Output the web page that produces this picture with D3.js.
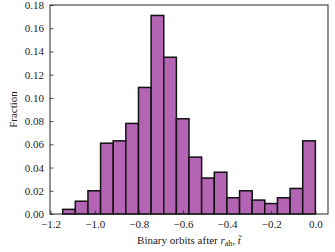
<!DOCTYPE html>
<html>
<head>
<meta charset="utf-8">
<script src="https://cdn.jsdelivr.net/npm/d3@7"></script>
<style>
  body { margin: 0; background: #fff; }
  svg text { font-family: "Liberation Serif", "DejaVu Serif", serif; fill: #222; }
  .axis path { display: none; }
  .axis line { stroke: #222; stroke-width: 0.8; }
</style>
</head>
<body>
<svg id="chart" width="335" height="252"></svg>
<script>
// histogram bin edges (21 edges -> 20 bins)
const binEdges = [-1.145, -1.0878, -1.0305, -0.9733, -0.916, -0.8588, -0.8015, -0.7443,
  -0.687, -0.6298, -0.5725, -0.5153, -0.458, -0.4008, -0.3435, -0.2863, -0.229,
  -0.1718, -0.1145, -0.0573, 0.0];
// fraction in each bin
const fractions = [0.004, 0.011, 0.020, 0.061, 0.063, 0.078, 0.109, 0.171, 0.135, 0.082,
  0.049, 0.031, 0.036, 0.014, 0.020, 0.012, 0.009, 0.014, 0.022, 0.063];
const xTicks = [-1.2, -1.0, -0.8, -0.6, -0.4, -0.2, 0.0];
const yTicks = [0.00, 0.02, 0.04, 0.06, 0.08, 0.10, 0.12, 0.14, 0.16, 0.18];

const margin = { top: 5, right: 7, bottom: 38, left: 50 },
  width = 335 - margin.left - margin.right,
  height = 252 - margin.top - margin.bottom;

const svg = d3.select("#chart");
const g = svg.append("g")
  .attr("transform", "translate(" + margin.left + "," + margin.top + ")");

const x = d3.scaleLinear().domain([-1.2025, 0.0573]).range([0, width]);
const y = d3.scaleLinear().domain([0, 0.18]).range([height, 0]);

const bins = fractions.map((f, i) => ({ x0: binEdges[i], x1: binEdges[i + 1], v: f }));

g.selectAll("rect.bar")
  .data(bins)
  .enter().append("rect")
  .attr("class", "bar")
  .attr("x", d => x(d.x0))
  .attr("width", d => x(d.x1) - x(d.x0))
  .attr("y", d => y(d.v))
  .attr("height", d => y(0) - y(d.v))
  .attr("fill", "#b365b4")
  .attr("stroke", "#111")
  .attr("stroke-width", 1.5);

const fmtMinus = s => s.replace("-", "\u2212");

// x axis, ticks pointing inwards
g.append("g")
  .attr("class", "axis")
  .attr("transform", "translate(0," + height + ")")
  .call(d3.axisBottom(x).tickValues(xTicks).tickSize(-3.5).tickPadding(6)
    .tickFormat(d => fmtMinus(d3.format(".1f")(d))))
  .selectAll("text").attr("font-size", 11);

// y axis
g.append("g")
  .attr("class", "axis")
  .call(d3.axisLeft(y).tickValues(yTicks).tickSize(-3.5).tickPadding(6)
    .tickFormat(d3.format(".2f")))
  .selectAll("text").attr("font-size", 11);

// frame
g.append("rect")
  .attr("width", width).attr("height", height)
  .attr("fill", "none").attr("stroke", "#222").attr("stroke-width", 1);

// labels
const xl = svg.append("text")
  .attr("x", margin.left + width / 2)
  .attr("y", 244)
  .attr("text-anchor", "middle")
  .attr("font-size", 11);
xl.append("tspan").text("Binary orbits after ");
xl.append("tspan").attr("font-style", "italic").text("r");
xl.append("tspan").attr("font-size", 8).attr("dy", 2).text("ah");
xl.append("tspan").attr("dy", -2).text(", ");
xl.append("tspan").attr("font-style", "italic").text("t\u0303");

svg.append("text")
  .attr("transform", "translate(17," + (margin.top + height / 2) + ") rotate(-90)")
  .attr("text-anchor", "middle")
  .attr("font-size", 11)
  .text("Fraction");
</script>
</body>
</html>
